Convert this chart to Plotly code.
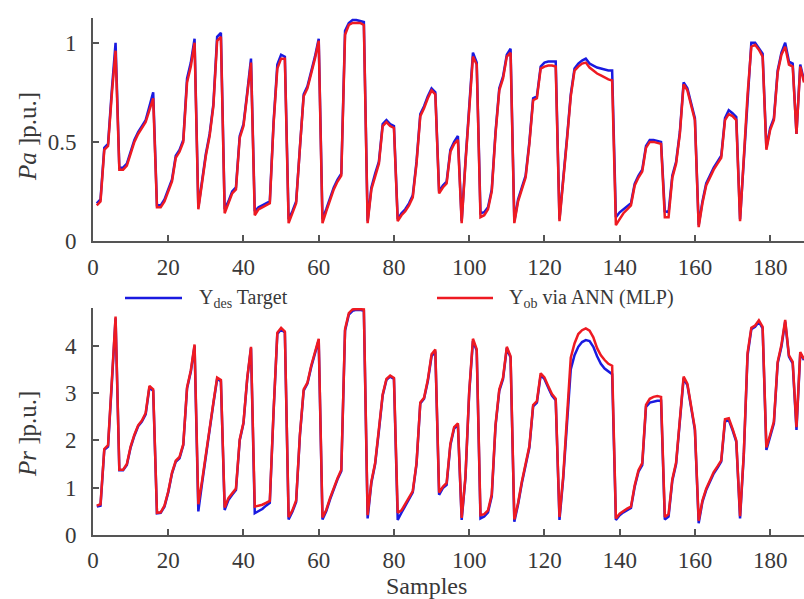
import plotly.graph_objects as go

samples = list(range(1, 190))

pa_target = [
    0.19, 0.21, 0.47, 0.49, 0.76, 1.00, 0.37, 0.37, 0.39, 0.45,
    0.51, 0.55, 0.58, 0.61, 0.68, 0.75, 0.18, 0.18, 0.21, 0.26,
    0.31, 0.43, 0.46, 0.51, 0.82, 0.90, 1.02, 0.17, 0.30, 0.44,
    0.54, 0.69, 1.03, 1.05, 0.16, 0.20, 0.25, 0.27, 0.53, 0.59,
    0.75, 0.92, 0.15, 0.17, 0.18, 0.19, 0.20, 0.60, 0.89, 0.94,
    0.93, 0.11, 0.15, 0.20, 0.48, 0.74, 0.78, 0.85, 0.93, 1.02,
    0.11, 0.16, 0.22, 0.27, 0.31, 0.34, 1.06, 1.10, 1.115, 1.115,
    1.11, 1.105, 0.10, 0.27, 0.34, 0.40, 0.59, 0.61, 0.59, 0.58,
    0.11, 0.14, 0.16, 0.19, 0.23, 0.40, 0.64, 0.68, 0.73, 0.77,
    0.75, 0.25, 0.28, 0.30, 0.46, 0.50, 0.53, 0.10, 0.40, 0.70,
    0.95, 0.90, 0.14, 0.145, 0.17, 0.26, 0.55, 0.77, 0.83, 0.94,
    0.97, 0.10, 0.21, 0.27, 0.33, 0.50, 0.72, 0.73, 0.88, 0.90,
    0.905, 0.905, 0.905, 0.11, 0.30, 0.52, 0.74, 0.87, 0.895, 0.91,
    0.92, 0.895, 0.885, 0.875, 0.87, 0.865, 0.86, 0.86, 0.12, 0.145,
    0.16, 0.175, 0.19, 0.29, 0.33, 0.36, 0.48, 0.51, 0.51, 0.505,
    0.50, 0.15, 0.145, 0.33, 0.40, 0.55, 0.80, 0.77, 0.70, 0.62,
    0.08, 0.20, 0.29, 0.33, 0.37, 0.40, 0.43, 0.62, 0.66, 0.645,
    0.625, 0.11, 0.42, 0.75, 1.00, 1.00, 0.975, 0.945, 0.47, 0.57,
    0.62, 0.86, 0.95, 1.00, 0.905, 0.895, 0.54, 0.89, 0.81,
]

pa_ann = [
    0.18, 0.20, 0.46, 0.48, 0.74, 0.96, 0.36, 0.36, 0.38, 0.44,
    0.50, 0.54, 0.57, 0.60, 0.66, 0.72, 0.17, 0.17, 0.20, 0.25,
    0.30, 0.42, 0.45, 0.50, 0.80, 0.88, 1.00, 0.16, 0.29, 0.43,
    0.53, 0.68, 1.01, 1.03, 0.14, 0.19, 0.24, 0.26, 0.52, 0.58,
    0.74, 0.90, 0.13, 0.16, 0.17, 0.18, 0.19, 0.59, 0.87, 0.92,
    0.92, 0.09, 0.14, 0.19, 0.47, 0.73, 0.77, 0.84, 0.92, 1.01,
    0.09, 0.15, 0.21, 0.26, 0.30, 0.33, 1.04, 1.09, 1.10, 1.10,
    1.10, 1.09, 0.09, 0.26, 0.33, 0.39, 0.58, 0.60, 0.58, 0.57,
    0.10, 0.13, 0.15, 0.18, 0.22, 0.39, 0.63, 0.67, 0.72, 0.76,
    0.74, 0.24, 0.27, 0.29, 0.45, 0.49, 0.51, 0.09, 0.39, 0.69,
    0.93, 0.89, 0.12, 0.13, 0.16, 0.25, 0.54, 0.76, 0.82, 0.93,
    0.95, 0.09, 0.20, 0.26, 0.32, 0.49, 0.71, 0.72, 0.87, 0.88,
    0.885, 0.885, 0.88, 0.10, 0.29, 0.51, 0.73, 0.86, 0.88, 0.895,
    0.90, 0.875, 0.86, 0.845, 0.835, 0.825, 0.815, 0.81, 0.08, 0.11,
    0.14, 0.16, 0.18, 0.28, 0.32, 0.35, 0.47, 0.50, 0.50, 0.495,
    0.49, 0.12, 0.12, 0.32, 0.39, 0.54, 0.79, 0.76, 0.69, 0.61,
    0.07, 0.19, 0.28, 0.32, 0.36, 0.39, 0.42, 0.61, 0.64, 0.63,
    0.61, 0.10, 0.41, 0.74, 0.98, 0.99, 0.965, 0.93, 0.46, 0.56,
    0.61, 0.85, 0.94, 0.98, 0.89, 0.88, 0.54, 0.88, 0.80,
]

pr_target = [
    0.60, 0.62, 1.80, 1.87, 3.20, 4.58, 1.37, 1.37, 1.48, 1.85,
    2.10, 2.30, 2.40, 2.55, 3.12, 3.05, 0.46, 0.47, 0.60, 0.90,
    1.30, 1.55, 1.62, 1.90, 3.10, 3.45, 4.00, 0.50, 1.10, 1.70,
    2.25, 2.78, 3.30, 3.25, 0.53, 0.74, 0.85, 0.95, 2.00, 2.36,
    3.30, 3.95, 0.46, 0.50, 0.55, 0.62, 0.68, 2.60, 4.25, 4.35,
    4.28, 0.33, 0.49, 0.70, 2.10, 3.05, 3.20, 3.55, 3.85, 4.12,
    0.33, 0.50, 0.75, 0.98, 1.18, 1.35, 4.32, 4.66, 4.74, 4.76,
    4.76, 4.74, 0.35, 1.10, 1.50, 2.20, 2.95, 3.28, 3.35, 3.30,
    0.32, 0.47, 0.62, 0.75, 0.90, 1.50, 2.78, 2.88, 3.25, 3.78,
    3.88, 0.85, 0.99, 1.06, 1.90, 2.25, 2.33, 0.32, 1.20, 3.00,
    4.10, 3.90, 0.35, 0.39, 0.48, 0.82, 2.30, 3.05, 3.30, 3.95,
    3.75, 0.28, 0.65, 1.10, 1.50, 1.85, 2.72, 2.80, 3.38, 3.30,
    3.12, 2.95, 2.85, 0.32, 1.20, 2.40, 3.50, 3.80, 3.98, 4.08,
    4.12, 4.10, 3.98, 3.78, 3.62, 3.52, 3.45, 3.40, 0.32, 0.42,
    0.48, 0.53, 0.57, 1.02, 1.34, 1.48, 2.71, 2.80, 2.82, 2.84,
    2.84, 0.33, 0.39, 1.15, 1.50, 2.40, 3.31, 3.17, 2.70, 2.22,
    0.25, 0.70, 0.95, 1.13, 1.30, 1.42, 1.55, 2.40, 2.43, 2.22,
    1.97, 0.35, 1.70, 3.80, 4.35, 4.40, 4.51, 4.37, 1.80, 2.08,
    2.36, 3.63, 3.98, 4.51, 3.77, 3.63, 2.22, 3.84, 3.70,
]

pr_ann = [
    0.62, 0.65, 1.82, 1.90, 3.25, 4.62, 1.38, 1.38, 1.50, 1.87,
    2.12, 2.32, 2.42, 2.58, 3.15, 3.08, 0.47, 0.48, 0.62, 0.92,
    1.32, 1.57, 1.65, 1.92, 3.12, 3.48, 4.03, 0.65, 1.15, 1.73,
    2.28, 2.80, 3.33, 3.28, 0.58, 0.78, 0.88, 0.98, 2.02, 2.38,
    3.32, 3.98, 0.60, 0.62, 0.64, 0.68, 0.72, 2.62, 4.28, 4.38,
    4.30, 0.38, 0.52, 0.73, 2.12, 3.08, 3.22, 3.58, 3.88, 4.15,
    0.37, 0.53, 0.78, 1.00, 1.20, 1.38, 4.35, 4.69, 4.77, 4.78,
    4.78, 4.77, 0.42, 1.13, 1.52, 2.22, 2.97, 3.30, 3.37, 3.32,
    0.47, 0.52, 0.66, 0.78, 0.93, 1.52, 2.80, 2.90, 3.28, 3.82,
    3.92, 0.90, 1.02, 1.10, 1.93, 2.28, 2.36, 0.36, 1.23, 3.03,
    4.15, 3.93, 0.42, 0.44, 0.52, 0.86, 2.33, 3.08, 3.33, 3.98,
    3.78, 0.33, 0.68, 1.13, 1.53, 1.88, 2.75, 2.83, 3.42, 3.33,
    3.15, 2.98, 2.88, 0.38, 1.25, 2.55, 3.75, 4.05, 4.25, 4.33,
    4.37, 4.32, 4.18, 3.95, 3.80, 3.70, 3.62, 3.58, 0.35, 0.45,
    0.51, 0.56, 0.60, 1.05, 1.37, 1.52, 2.75, 2.88, 2.92, 2.94,
    2.92, 0.38, 0.44, 1.18, 1.53, 2.43, 3.35, 3.20, 2.73, 2.25,
    0.30, 0.73, 0.98, 1.16, 1.33, 1.45, 1.58, 2.45, 2.47, 2.25,
    2.00, 0.40, 1.73, 3.85, 4.38, 4.43, 4.54, 4.40, 1.85, 2.12,
    2.40, 3.66, 4.02, 4.55, 3.80, 3.66, 2.28, 3.87, 3.72,
]

x_ticks = [0, 20, 40, 60, 80, 100, 120, 140, 160, 180]
pa_ticks = [0, 0.5, 1]
pa_ticktext = ["0", "0.5", "1"]
pr_ticks = [0, 1, 2, 3, 4]

name_target = "Y<sub>des</sub> Target"
name_ann = "Y<sub>ob</sub> via ANN (MLP)"

BLUE = "#1a1ae0"
RED = "#ee1a22"
AXC = "#555555"
TXT = "#383838"
FONT = "Liberation Serif, Times New Roman, serif"

W, H = 804, 599
ML, MR, MT, MB = 93, 0, 18, 64
PW, PH = W - ML - MR, H - MT - MB


def px2x(px):
    return (px - ML) / PW


def py2y(py):
    return (H - MB - py) / PH


fig = go.Figure()
fig.add_trace(go.Scatter(x=samples, y=pa_target, mode="lines", name=name_target,
                         line=dict(color=BLUE, width=2.5), xaxis="x", yaxis="y", showlegend=False))
fig.add_trace(go.Scatter(x=samples, y=pa_ann, mode="lines", name=name_ann,
                         line=dict(color=RED, width=2.5), xaxis="x", yaxis="y", showlegend=False))
fig.add_trace(go.Scatter(x=samples, y=pr_target, mode="lines", name=name_target,
                         line=dict(color=BLUE, width=2.5), xaxis="x2", yaxis="y2", showlegend=False))
fig.add_trace(go.Scatter(x=samples, y=pr_ann, mode="lines", name=name_ann,
                         line=dict(color=RED, width=2.5), xaxis="x2", yaxis="y2", showlegend=False))

axis_common = dict(
    showline=True, linecolor=AXC, linewidth=2,
    ticks="inside", ticklen=6, tickwidth=1.5, tickcolor=AXC,
    showgrid=False, zeroline=False,
    tickfont=dict(family=FONT, size=23, color=TXT),
)

top_dom = [py2y(241), 1.0]
bot_dom = [0.0, py2y(308)]

fig.update_layout(
    width=W, height=H,
    margin=dict(l=ML, r=MR, t=MT, b=MB),
    paper_bgcolor="white", plot_bgcolor="white",
    font=dict(family=FONT, color=TXT),
    xaxis=dict(range=[0, 189], tickvals=x_ticks, anchor="y", domain=[0, 1],
               ticklabelstandoff=4, **axis_common),
    yaxis=dict(range=[0, 1.125], tickvals=pa_ticks, ticktext=pa_ticktext,
               anchor="x", domain=top_dom, ticklabelstandoff=10, **axis_common),
    xaxis2=dict(range=[0, 189], tickvals=x_ticks, anchor="y2", domain=[0, 1],
                ticklabelstandoff=3, **axis_common),
    yaxis2=dict(range=[0, 4.8], tickvals=pr_ticks, anchor="x2", domain=bot_dom,
                ticklabelstandoff=10, **axis_common),
    showlegend=False,
)

# y-axis titles and x-axis title
fig.add_annotation(x=px2x(27), y=py2y(137), xref="paper", yref="paper",
                   text="<i>Pa</i> ]p.u.]", textangle=-90, showarrow=False,
                   xanchor="center", yanchor="middle",
                   font=dict(family=FONT, size=25, color=TXT))
fig.add_annotation(x=px2x(27), y=py2y(434), xref="paper", yref="paper",
                   text="<i>Pr</i> ]p.u.]", textangle=-90, showarrow=False,
                   xanchor="center", yanchor="middle",
                   font=dict(family=FONT, size=25, color=TXT))
fig.add_annotation(x=px2x(426), y=py2y(586), xref="paper", yref="paper",
                   text="Samples", showarrow=False,
                   xanchor="center", yanchor="middle",
                   font=dict(family=FONT, size=24, color=TXT))

# legend between the panels
leg_y = py2y(298)
for (x0, x1, tx, col, label) in [(125, 182, 197, BLUE, name_target),
                                 (437, 493, 507, RED, name_ann)]:
    fig.add_shape(type="line", xref="paper", yref="paper",
                  x0=px2x(x0), x1=px2x(x1), y0=leg_y, y1=leg_y,
                  line=dict(color=col, width=2.5))
    fig.add_annotation(x=px2x(tx), y=leg_y, xref="paper", yref="paper",
                       text=label, showarrow=False, xanchor="left", yanchor="middle",
                       font=dict(family=FONT, size=20, color=TXT))

fig.write_html("out.html")
